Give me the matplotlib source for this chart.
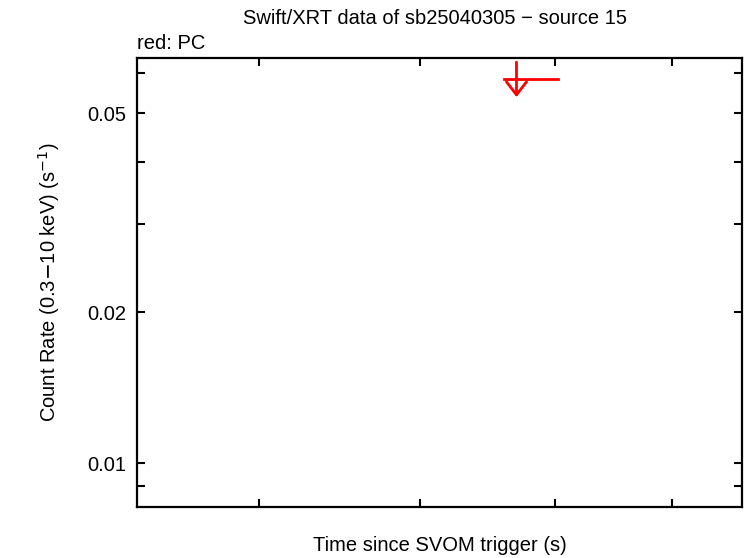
import numpy as np
import matplotlib
matplotlib.use("Agg")
import matplotlib.pyplot as plt
from matplotlib.ticker import FixedLocator, NullFormatter, NullLocator

plt.rcParams['font.family'] = ['Liberation Sans', 'DejaVu Sans']

# upper limit (PC mode)
tiempo = [6700.0]
tiempo_err_neg = [95.0]
tiempo_err_pos = [323.0]
tasa_limite = [0.0585]
tasa_top = [0.0632]
tasa_flecha = [0.0538]

ticks_y = [0.01, 0.02, 0.05]
etiquetas_y = ['0.01', '0.02', '0.05']
ticks_y_menores = [0.009, 0.03, 0.04, 0.06]
ticks_x_menores = [5000, 6000, 7000, 8000]

fs = 14.5

fig = plt.figure(figsize=(7.46, 5.58), dpi=100)
ax = fig.add_axes([0.1836, 0.0914, 0.811, 0.8046])

ax.set_xscale('log')
ax.set_yscale('log')
ax.set_xlim(4350, 8660)
ax.set_ylim(0.00817, 0.0644)

# horizontal bar
for t, en, ep, y in zip(tiempo, tiempo_err_neg, tiempo_err_pos, tasa_limite):
    ax.plot([t - en, t + ep], [y, y], color='red', lw=2)
# vertical bar with downward arrow
for t, yt, yf in zip(tiempo, tasa_top, tasa_flecha):
    ax.annotate('', xy=(t, yf), xytext=(t, yt),
                arrowprops=dict(arrowstyle='->, head_length=0.43, head_width=0.33',
                                color='red', lw=2,
                                mutation_scale=22, shrinkA=0, shrinkB=0))

ax.yaxis.set_major_locator(FixedLocator(ticks_y))
ax.set_yticklabels(etiquetas_y)
ax.yaxis.set_minor_locator(FixedLocator(ticks_y_menores))
ax.yaxis.set_minor_formatter(NullFormatter())
ax.xaxis.set_major_locator(NullLocator())
ax.xaxis.set_minor_locator(FixedLocator(ticks_x_menores))
ax.xaxis.set_minor_formatter(NullFormatter())

ax.tick_params(which='both', direction='in', top=True, right=True,
               length=6, width=1.5, labelsize=fs, pad=8)
for s in ax.spines.values():
    s.set_linewidth(1.6)

ax.set_xlabel('Time since SVOM trigger (s)', fontsize=fs, labelpad=13)
ax.set_ylabel('Count Rate (0.3$-$10 keV) (s$^{-1}$)', fontsize=fs, labelpad=18)
fig.text(0.583, 0.966, 'Swift/XRT data of sb25040305 \u2212 source 15',
         ha='center', va='center', fontsize=fs)
fig.text(0.184, 0.922, 'red: PC', ha='left', va='center', fontsize=fs)

fig.savefig('out.png', dpi=100)
